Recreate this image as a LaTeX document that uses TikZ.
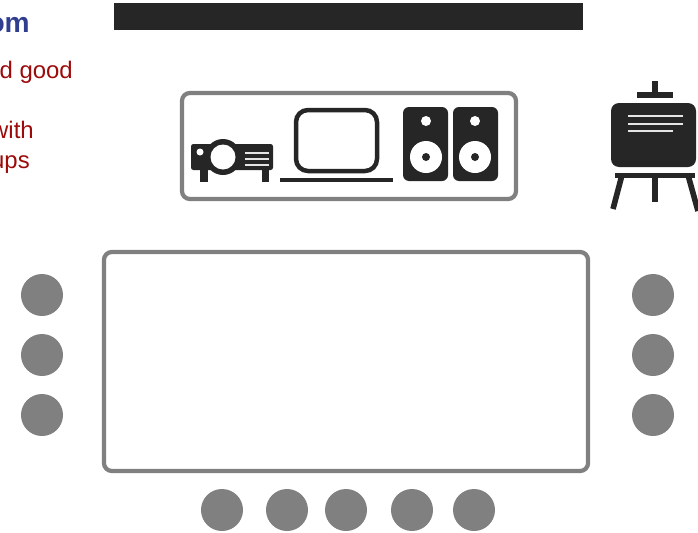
\documentclass[tikz,border=0pt]{standalone}
\usepackage{fontspec}
\setmainfont{Liberation Sans}
\definecolor{framegray}{HTML}{808080}
\definecolor{icondark}{HTML}{262626}
\definecolor{titleblue}{HTML}{2F3E8F}
\definecolor{notered}{HTML}{9C0A0A}
\tikzset{
	frame/.style={shape=rectangle, draw=framegray, line width=3pt, rounded corners=0.2cm, fill=white},
	seat/.style={shape=circle, fill=framegray, minimum size=1.05cm, inner sep=0pt},
	bar/.style={shape=rectangle, fill=icondark, inner sep=0pt},
	note/.style={anchor=base east, inner sep=0pt, text=notered, font=\fontsize{17}{20}\selectfont},
	icon/.style={fill=icondark, draw=none},
	gap/.style={fill=white, draw=none},
	slot/.style={draw=white!90!black, line width=1.6pt},
	post/.style={draw=icondark, line width=4pt}
}
\begin{document}
\begin{tikzpicture}[x=0.025cm, y=-0.025cm]
	\useasboundingbox (0,0) rectangle (698,533);
	% Texts cut by the page edge:
	\node[anchor=base east, inner sep=0pt, text=titleblue, font=\fontsize{20}{22}\selectfont\bfseries] (title) at (30,32){om};
	\node[note] (note1) at (73,78.5){d good};
	\node[note] (note2) at (34,138.5){with};
	\node[note] (note3) at (30,168.5){ups};
	% Frames and top bar:
	\node[bar, minimum width=11.725cm, minimum height=0.65cm] (topbar) at (348.5,16.5){};
	\node[frame, minimum width=8.35cm, minimum height=2.65cm] (devices) at (349,146){};
	\node[frame, minimum width=12.1cm, minimum height=5.475cm] (table) at (346,361.5){};
	% Seats:
	\foreach \y [count=\i] in {295,355,415}{
		\node[seat] (left\i) at (42,\y){};
		\node[seat] (right\i) at (653,\y){};
	}
	\foreach \x [count=\i] in {222,287,346,412,474}
		\node[seat] (bottom\i) at (\x,510){};
	% Projector:
	\fill[icon, rounded corners=0.06cm] (191,144) rectangle (273,170);
	\fill[icon] (200,170) rectangle (208,182);
	\fill[icon] (262,170) rectangle (269,182);
	\fill[icon] (223,157) circle[radius=18];
	\fill[gap] (223,157) circle[radius=12.5];
	\fill[gap] (200,152) circle[radius=3.5];
	\foreach \y in {153,159,165}
		\draw[slot] (245,\y) -- (269,\y);
	% Laptop:
	\draw[draw=icondark, line width=3.2pt, rounded corners=0.3cm] (296,110) rectangle (377,171);
	\fill[icon] (280,178) rectangle (393,182);
	% Speakers:
	\foreach \x/\c in {403/426,453/475}{
		\fill[icon, rounded corners=0.15cm] (\x,107) rectangle (\x+45,181);
		\fill[gap] (\c,121) circle[radius=5];
		\fill[gap] (\c,157) circle[radius=16];
		\fill[icon] (\c,157) circle[radius=4];
	}
	% Easel:
	\fill[icon, rounded corners=0.2cm] (611,103) rectangle (696,167);
	\draw[slot] (628,116) -- (683,116);
	\draw[slot] (628,124) -- (683,124);
	\draw[slot] (628,131) -- (673,131);
	\draw[post] (655,81) -- (655,97);
	\draw[post] (637,95) -- (673,95);
	\draw[post] (615,175.5) -- (695,175.5);
	\draw[post] (655,175) -- (655,202);
	\draw[post] (622,175) -- (613,209);
	\draw[post] (688,175) -- (698,211);
\end{tikzpicture}
\end{document}
